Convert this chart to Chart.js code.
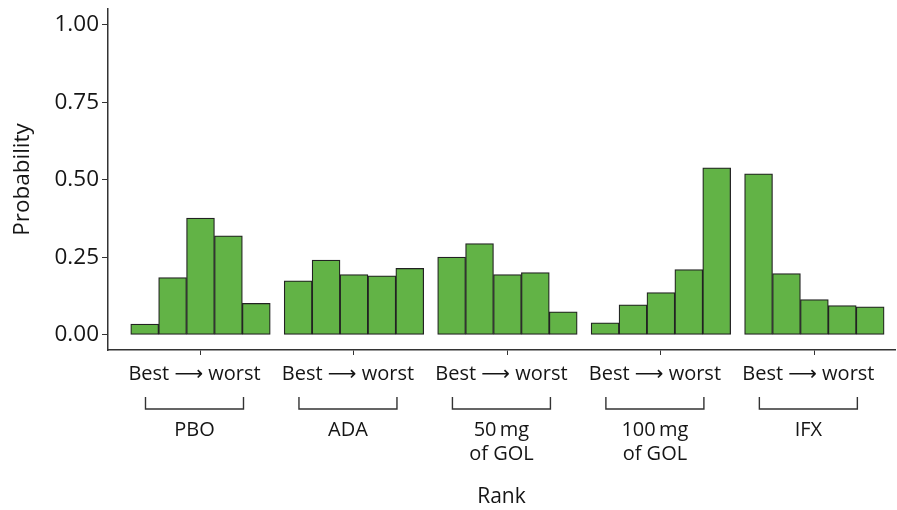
<!DOCTYPE html>
<html><head><meta charset="utf-8">
<script src="https://cdn.jsdelivr.net/npm/chart.js@4.4.0/dist/chart.umd.min.js"></script>
<style>html,body{margin:0;padding:0;background:#fff}</style>
</head><body>
<canvas id="c" width="897" height="510" style="width:897px;height:510px;display:block"></canvas>
<script>
// ---- data ----
const treatments = ['PBO', 'ADA', '50 mg of GOL', '100 mg of GOL', 'IFX'];
const groupLabels = [['PBO'], ['ADA'], ['50\u2009mg', 'of GOL'], ['100\u2009mg', 'of GOL'], ['IFX']];
const ranks = [1, 2, 3, 4, 5];
const pbo    = [0.035, 0.185, 0.377, 0.320, 0.102];
const ada    = [0.175, 0.242, 0.195, 0.191, 0.215];
const gol50  = [0.251, 0.295, 0.195, 0.201, 0.075];
const gol100 = [0.039, 0.097, 0.137, 0.211, 0.539];
const ifx    = [0.520, 0.198, 0.114, 0.095, 0.091];
const yTickValues = [0, 0.25, 0.5, 0.75, 1.0];
const xTickText = 'Best \u27F6 worst';
const yTitle = 'Probability';
const xTitle = 'Rank';

// ---- layout helpers ----
const seriesByGroup = [pbo, ada, gol50, gol100, ifx];
const GROUP_STEP = 5.5;           // 5 bars + half-bar gap (in bar units)
const LABEL_SHIFT = -6;
const FONT = '"Open Sans", "Noto Sans", "DejaVu Sans", sans-serif';
const INK = '#151515';

const points = [];
seriesByGroup.forEach((vals, g) => {
  vals.forEach((v, r) => points.push({x: g * GROUP_STEP + r, y: v}));
});
const groupCenters = treatments.map((t, g) => g * GROUP_STEP + (ranks.length - 1) / 2);

const bracketPlugin = {
  id: 'brackets',
  afterDraw(chart) {
    const ctx = chart.ctx, xs = chart.scales.x, base = chart.chartArea.bottom;
    ctx.save();
    ctx.strokeStyle = '#333';
    ctx.lineWidth = 1.4;
    ctx.fillStyle = INK;
    ctx.font = '20px ' + FONT;
    ctx.textAlign = 'center';
    ctx.textBaseline = 'middle';
    groupCenters.forEach((c, g) => {
      const cx = xs.getPixelForValue(c) + LABEL_SHIFT;
      ctx.beginPath();
      ctx.moveTo(cx - 49, base + 47);
      ctx.lineTo(cx - 49, base + 59);
      ctx.lineTo(cx + 49, base + 59);
      ctx.lineTo(cx + 49, base + 47);
      ctx.stroke();
      groupLabels[g].forEach((t, i) => ctx.fillText(t, cx, base + 80.5 + i * 23.5));
    });
    ctx.restore();
  }
};

new Chart(document.getElementById('c'), {
  type: 'bar',
  data: {
    datasets: [{
      data: points,
      backgroundColor: '#62b346',
      borderColor: '#222',
      borderWidth: 1.25,
      borderSkipped: false,
      categoryPercentage: 1,
      barPercentage: 1
    }]
  },
  options: {
    responsive: false,
    animation: false,
    layout: {padding: {top: 9, right: 2, bottom: 0, left: 0}},
    plugins: {legend: {display: false}, tooltip: {enabled: false}},
    scales: {
      x: {
        type: 'linear',
        offset: false,
        min: -1.315,
        max: 26.89,
        grid: {display: true, drawOnChartArea: false, drawTicks: true, tickLength: 5, color: '#333', offset: false},
        border: {display: true, color: '#333', width: 1.5},
        afterBuildTicks: s => { s.ticks = groupCenters.map(v => ({value: v})); },
        afterFit: s => { s.height = 160; s.paddingLeft = 0; s.paddingRight = 0; },
        ticks: {
          autoSkip: false, maxRotation: 0, minRotation: 0,
          padding: 7.5, labelOffset: LABEL_SHIFT,
          color: INK, font: {family: FONT, size: 20},
          callback: () => xTickText
        },
        title: {display: true, text: xTitle, color: INK, font: {family: FONT, size: 21}, padding: {top: 0, bottom: 0}}
      },
      y: {
        min: -0.0484,
        max: 1.0516,
        grid: {display: true, drawOnChartArea: false, drawTicks: true, tickLength: 6, color: '#333'},
        border: {display: true, color: '#333', width: 1.5},
        afterBuildTicks: s => { s.ticks = yTickValues.map(v => ({value: v})); },
        afterFit: s => { s.width = 108; s.paddingTop = 0; s.paddingBottom = 0; },
        ticks: {
          padding: 3, color: INK, font: {family: FONT, size: 22.5},
          callback: v => Number(v).toFixed(2)
        },
        title: {display: true, text: yTitle, color: INK, font: {family: FONT, size: 22.5}, padding: {top: 9, bottom: 0}}
      }
    }
  },
  plugins: [bracketPlugin]
});
</script>
</body></html>
